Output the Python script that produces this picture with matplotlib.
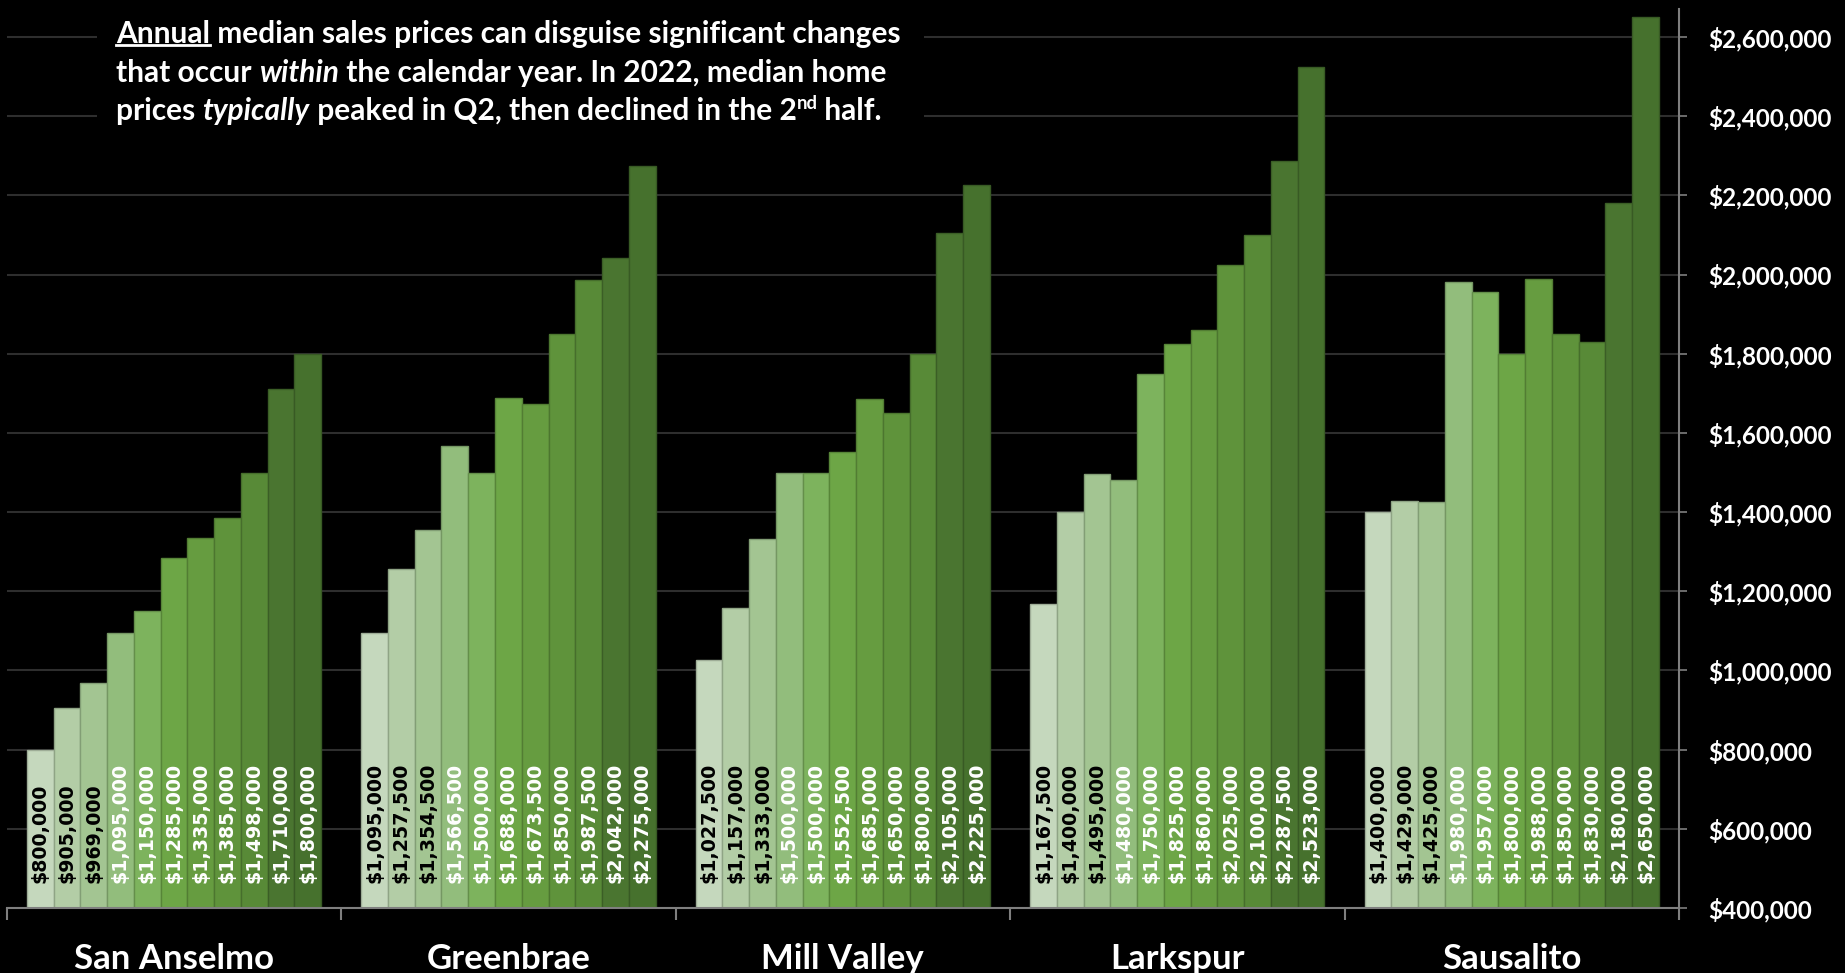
import matplotlib.pyplot as plt
import matplotlib.colors as mcolors
from matplotlib.patches import Rectangle
from matplotlib.lines import Line2D
from matplotlib.ticker import FuncFormatter, MultipleLocator, FixedLocator
import numpy as np

# Median sales prices by town, one value per period (oldest -> newest)
towns = ['San Anselmo', 'Greenbrae', 'Mill Valley', 'Larkspur', 'Sausalito']
san_anselmo = [800000, 905000, 969000, 1095000, 1150000, 1285000, 1335000, 1385000, 1498000, 1710000, 1800000]
greenbrae = [1095000, 1257500, 1354500, 1566500, 1500000, 1688000, 1673500, 1850000, 1987500, 2042000, 2275000]
mill_valley = [1027500, 1157000, 1333000, 1500000, 1500000, 1552500, 1685000, 1650000, 1800000, 2105000, 2225000]
larkspur = [1167500, 1400000, 1495000, 1480000, 1750000, 1825000, 1860000, 2025000, 2100000, 2287500, 2523000]
sausalito = [1400000, 1429000, 1425000, 1980000, 1957000, 1800000, 1988000, 1850000, 1830000, 2180000, 2650000]
prices = [san_anselmo, greenbrae, mill_valley, larkspur, sausalito]

# light -> dark green, one shade per period
shades = ['#c5d8bd', '#b3cda6', '#a3c592', '#92bd7c', '#7db35d', '#6da646',
          '#669c40', '#5f933b', '#588a37', '#4a7530', '#46712d']
label_colors = ['black'] * 3 + ['white'] * 8

W, H = 1845, 973
fig = plt.figure(figsize=(W / 100, H / 100), dpi=100, facecolor='black')
ax = fig.add_axes([6.7 / W, (H - 908) / H, (1679 - 6.7) / W, (908 - 9.3) / H])
ax.set_facecolor('black')

n = len(shades)
bw = 0.88 / n
ymin, ymax = 400000, 2670000

for i, vals in enumerate(prices):
    for j, v in enumerate(vals):
        x = i + (j - (n - 1) / 2) * bw
        edge = mcolors.to_rgb(shades[j])
        edge = tuple(c * 0.8 for c in edge)
        ax.bar(x, v - ymin, bottom=ymin, width=bw, color=shades[j],
               edgecolor=edge, linewidth=1, zorder=2)
        ax.annotate(f'${v:,.0f}', xy=(x, ymin), xytext=(0, 18),
                    textcoords='offset points', rotation=90,
                    ha='center', va='bottom', color=label_colors[j],
                    fontsize=13.7, fontweight='bold', family='DejaVu Sans', zorder=3)

ax.set_xlim(-0.5, len(towns) - 0.5)
ax.set_ylim(ymin, ymax)

# axes styling
for s in ['top', 'left']:
    ax.spines[s].set_visible(False)
for s in ['right', 'bottom']:
    ax.spines[s].set_color('#7f7f7f')
    ax.spines[s].set_linewidth(1.5)

ax.yaxis.tick_right()
ax.yaxis.set_major_locator(MultipleLocator(200000))
ax.yaxis.set_major_formatter(FuncFormatter(lambda v, p: f'${v:,.0f}'))
ax.tick_params(axis='y', colors='#7f7f7f', length=6, width=1.2, pad=15,
               labelcolor='white', labelsize=17.5)
for lab in ax.get_yticklabels():
    lab.set_fontfamily('Lato')
    lab.set_fontweight('bold')
ax.grid(axis='y', color='#2e2e2e', linewidth=1.5, zorder=0)
ax.set_axisbelow(True)

ax.set_xticks(range(len(towns)))
ax.set_xticklabels(towns, fontsize=25, fontweight='bold', family='Lato', color='white')
ax.tick_params(axis='x', length=0, pad=25)
ax.xaxis.set_minor_locator(FixedLocator(np.arange(-0.5, len(towns), 1.0)))
ax.tick_params(axis='x', which='minor', length=8.6, width=1.5, color='#7f7f7f')

# black panel behind the note, hides the gridlines there
ax.add_patch(Rectangle((97 / W, (H - 140) / H), (924 - 97) / W, 130 / H,
                       transform=fig.transFigure, facecolor='black',
                       edgecolor='none', zorder=1))

# note text, built piece by piece so styles can change mid-line
note_lines = [
    [('Annual', 'normal', 'u'), (' median sales prices can disguise significant changes', 'normal', '')],
    [('that occur ', 'normal', ''), ('within', 'italic', ''), (' the calendar year. In 2022, median home', 'normal', '')],
    [('prices ', 'normal', ''), ('typically', 'italic', ''), (' peaked in Q2, then declined in the 2', 'normal', ''),
     ('nd', 'normal', 'sup'), (' half.', 'normal', '')],
]
baselines = [43, 82, 120]
fs = 21.5
underlined = []
for line, base in zip(note_lines, baselines):
    prev = None
    anchor = None  # last full-size piece, keeps the baseline after a superscript
    for s, style, flag in line:
        kw = dict(color='white', fontweight='bold', family='Lato', fontstyle=style,
                  annotation_clip=False, zorder=4)
        if prev is None:
            t = ax.annotate(s, xy=(116, H - base), xycoords='figure pixels',
                            va='baseline', ha='left', fontsize=fs, **kw)
        elif flag == 'sup':
            t = ax.annotate(s, xy=(1, 0.45), xycoords=prev, va='bottom',
                            ha='left', fontsize=fs * 0.62, **kw)
        else:
            t = ax.annotate(s, xy=(1, 0), xycoords=(prev, anchor), va='bottom',
                            ha='left', fontsize=fs, **kw)
        if flag == 'u':
            underlined.append(t)
        if flag != 'sup':
            anchor = t
        prev = t

fig.canvas.draw()
r = fig.canvas.get_renderer()
for t in underlined:
    bb = t.get_window_extent(r)
    y = bb.y0 + 3
    fig.add_artist(Line2D([bb.x0 / W, bb.x1 / W], [y / H, y / H],
                          transform=fig.transFigure, color='white',
                          linewidth=2, zorder=5))

fig.savefig('out.png', dpi=100, facecolor='black')
